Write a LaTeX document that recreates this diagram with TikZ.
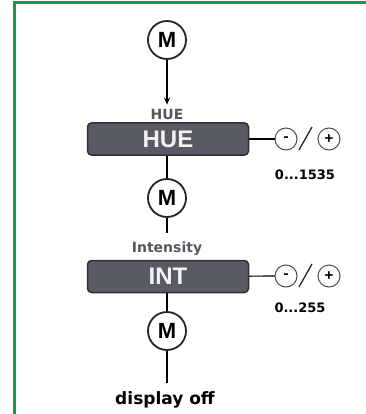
\documentclass[tikz,border=0pt]{standalone}
\usepackage{fontspec}
\setmainfont{Liberation Sans}
\newfontfamily\widefont{DejaVu Sans}
\usetikzlibrary{arrows.meta}
\definecolor{framegreen}{RGB}{20,152,82}
\definecolor{boxfill}{RGB}{88,90,100}
\definecolor{boxline}{RGB}{48,48,54}
\definecolor{lblgray}{RGB}{85,87,95}
\tikzset{
  mnode/.style={circle, draw=black!85, fill=white, line width=1.8pt, minimum size=38pt, inner sep=0pt,
    font=\fontsize{22}{22}\selectfont\bfseries},
  pmnode/.style={circle, draw=black!70, line width=1pt, minimum size=22pt, inner sep=0pt,
    font=\fontsize{15}{15}\selectfont\bfseries},
  slashline/.style={draw=black!85, line width=1.3pt},
  modebox/.style={rectangle, rounded corners=4pt, draw=boxline, line width=1.5pt, fill=boxfill,
    minimum width=161pt, minimum height=32pt, inner sep=0pt, text=white!95!black,
    font=\fontsize{24}{24}\selectfont\bfseries},
  tag/.style={text=lblgray, inner sep=0pt, font=\widefont\fontsize{14}{14}\selectfont\bfseries},
  rangetxt/.style={inner sep=0pt, font=\widefont\fontsize{13}{13}\selectfont\bfseries},
  endtxt/.style={inner sep=0pt, font=\widefont\fontsize{17}{17}\selectfont\bfseries},
  link/.style={draw=black, line width=1.2pt},
  frameline/.style={draw=framegreen, line width=3pt}
}
\begin{document}
\begin{tikzpicture}[x=1pt,y=-1pt]
\useasboundingbox (0,0) rectangle (365,414);
% frame
\coordinate (fb) at (14,416);
\coordinate (fc) at (14,3);
\coordinate (fr) at (367,3);
\draw[frameline] (fb) -- (fc) -- (fr);
% nodes
\node[mnode] (m1) at (167,40) {M};
\node[tag] (huelbl) at (167,114) {HUE};
\node[modebox] (huebox) at (168,139) {HUE};
\node[pmnode] (minus1) at (286,139) {-};
\node[pmnode] (plus1) at (329,139) {+};
\node[rangetxt] (range1) at (305,175) {0...1535};
\node[mnode] (m2) at (167,198) {M};
\node[tag] (intlbl) at (167,249) {Intensity};
\node[modebox] (intbox) at (168,276.5) {INT};
\node[pmnode] (minus2) at (286,276) {-};
\node[pmnode] (plus2) at (329,276) {+};
\node[rangetxt] (range2) at (300,308) {0...255};
\node[mnode] (m3) at (167,331) {M};
\node[endtxt] (off) at (165,400) {display off};
% slashes between - and +
\coordinate (s1a) at (299,150);
\coordinate (s1b) at (312,127);
\draw[slashline] (s1a) -- (s1b);
\coordinate (s2a) at (299,287);
\coordinate (s2b) at (312,264);
\draw[slashline] (s2a) -- (s2b);
% connectors
\draw[link,-{Stealth[length=7pt,width=6pt]}, shorten >=4pt] (m1) -- (huelbl);
\draw[link] (huebox) -- (minus1);
\draw[link] (m2 |- huebox.south) -- (m2);
\draw[link, shorten >=9pt] (m2) -- (intlbl);
\draw[link] (intbox) -- (minus2);
\draw[link] (m3 |- intbox.south) -- (m3);
\draw[link, shorten >=9pt] (m3) -- (m3 |- off.north);
\end{tikzpicture}
\end{document}
